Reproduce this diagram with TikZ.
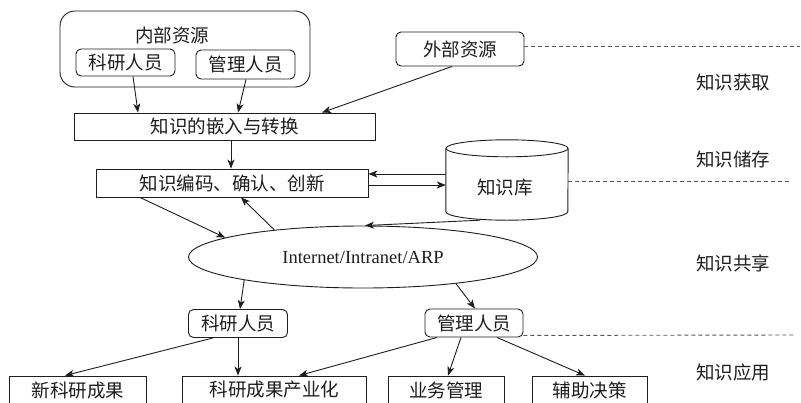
\documentclass[tikz,border=0pt]{standalone}
\usepackage{fontspec}
\setmainfont{Liberation Serif}
\newfontfamily\cjk{Noto Sans CJK SC}
\usetikzlibrary{shapes.geometric,arrows.meta}
\definecolor{ink}{HTML}{1E1E1E}
\tikzset{
  every node/.style={font=\cjk\fontsize{18.5}{20}\selectfont, text=ink},
  boxn/.style={draw=ink, line width=0.9pt, rectangle, inner sep=0pt},
  rbox/.style={boxn, rounded corners=5pt},
  arr/.style={draw=ink, line width=0.9pt, -{Stealth[length=9pt,width=7pt,inset=2.5pt]}},
  dline/.style={draw=ink!75, line width=0.9pt, dash pattern=on 4pt off 3pt},
  plain/.style={draw=ink, line width=0.9pt}
}
\begin{document}
\begin{tikzpicture}[x=1pt,y=-1pt]
\useasboundingbox (0,0) rectangle (801,402);
\clip (0,0) rectangle (801,402);
\fill[white] (0,0) rectangle (801,402);

% internal resources
\node[boxn, rounded corners=15pt, minimum width=250pt, minimum height=76pt] (inner) at (185,49) {};
\node (innert) at (172,35) {内部资源};
\node[rbox, minimum width=99pt, minimum height=27pt] (kyin) at (125.5,62.5) {科研人员};
\node[rbox, minimum width=99pt, minimum height=29pt] (glin) at (245.5,64.5) {管理人员};

\node[rbox, minimum width=128pt, minimum height=34pt] (wb) at (460,49) {外部资源};
\node[boxn, minimum width=301pt, minimum height=27pt] (qr) at (224.5,126.5) {知识的嵌入与转换};
\node[boxn, minimum width=272pt, minimum height=28pt] (bm) at (232,183) {知识编码、确认、创新};

% knowledge base cylinder
\node[inner sep=0pt, minimum width=122pt, minimum height=80pt] (kb) at (507,180) {};
\draw[plain] ([yshift=-8.5pt]kb.north west) -- ([yshift=8.5pt]kb.south west)
  arc[start angle=180, end angle=360, x radius=61pt, y radius=8.5pt]
  -- ([yshift=-8.5pt]kb.north east);
\draw[plain] ([yshift=-8.5pt]kb.north) ellipse[x radius=61pt, y radius=8.5pt];
\node (kbt) at (505,188) {知识库};

\node[draw=ink, line width=0.9pt, ellipse, inner sep=0pt, minimum width=349pt, minimum height=62pt,
      font=\rmfamily\fontsize{18.5}{20}\selectfont] (net) at (363,257) {Internet/Intranet/ARP};

\node[rbox, minimum width=99pt, minimum height=28pt] (kyout) at (238,323.5) {科研人员};
\node[rbox, minimum width=98pt, minimum height=28pt] (glout) at (474,323) {管理人员};

\node[boxn, minimum width=137pt, minimum height=28pt] (nk) at (78,390) {新科研成果};
\node[boxn, minimum width=184pt, minimum height=28pt] (cy) at (274.5,390) {科研成果产业化};
\node[boxn, minimum width=116pt, minimum height=28pt] (yw) at (446,390) {业务管理};
\node[boxn, minimum width=115pt, minimum height=28pt] (fz) at (589.5,390) {辅助决策};

% stage labels
\node (s1) at (733,82) {知识获取};
\node (s2) at (733,159) {知识储存};
\node (s3) at (733,263) {知识共享};
\node (s4) at (733,372) {知识应用};

% dashed separators
\coordinate (d1) at (800,46);
\coordinate (d2) at (790,181);
\coordinate (d3) at (795,335);
\draw[dline] (wb.east |- 0,46) -- (d1);
\draw[dline] (kb.east |- 0,181) -- (d2);
\draw[dline] ([yshift=2pt]glout.south east) -- (d3);

% connectors
\draw[arr] ([xshift=7.5pt]kyin.south) -- ([xshift=-86.5pt]qr.north);
\draw[arr] ([xshift=0.5pt]glin.south) -- ([xshift=13.5pt]qr.north);
\draw[arr] ([xshift=-8pt]wb.south) -- ([xshift=97.5pt]qr.north);
\draw[arr] ([xshift=6.5pt]qr.south) -- ([xshift=-1pt]bm.north);
\draw[arr] ([yshift=6pt]kb.west) -- ([yshift=9pt]bm.east);
\draw[arr] ([yshift=-2pt]bm.east) -- ([yshift=-5pt]kb.west);
\draw[arr] ([xshift=-92pt]bm.south) -- (net.172);
\draw[arr] (net.163) -- ([xshift=9pt]bm.south);
\draw[arr] ([xshift=-27pt]kb.south) -- ([xshift=2pt]net.north);
\draw[arr] (net.191) -- ([xshift=2pt]kyout.north);
\draw[arr] (net.-16) -- ([xshift=1pt]glout.north);
\draw[arr] ([xshift=-25pt]kyout.south) -- ([xshift=-13pt]nk.north);
\draw[arr] (kyout.south) -- ([xshift=-36.5pt]cy.north);
\draw[arr] ([xshift=-37pt]glout.south) -- ([xshift=24.5pt]cy.north);
\draw[arr] ([xshift=-13pt]glout.south) -- ([xshift=2pt]yw.north);
\draw[arr] ([xshift=23pt]glout.south) -- ([xshift=-4.5pt]fz.north);
\end{tikzpicture}
\end{document}
